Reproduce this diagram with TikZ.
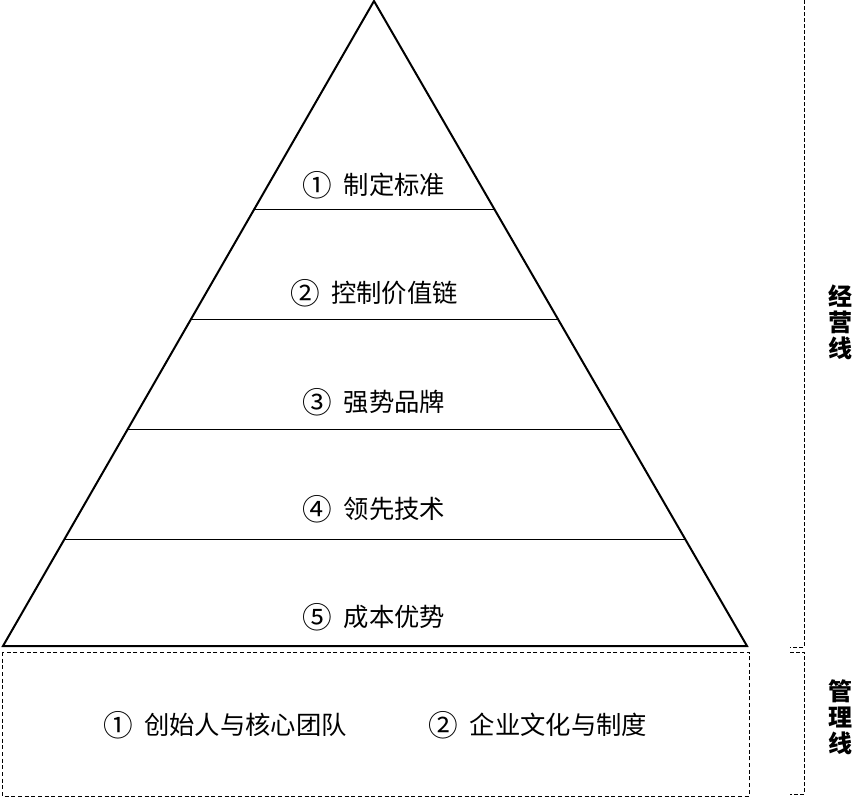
\documentclass[tikz,border=0pt]{standalone}
\usepackage{fontspec}
\newfontfamily\cjk{Noto Sans CJK SC}
\usepackage{tikz}

\newcommand\cnum[1]{\raisebox{-0.08em}{\scalebox{1.17}{#1}}\hspace{0.45em}}

\tikzset{
  band/.style={font=\cjk\fontsize{19}{21}\selectfont, inner sep=0pt},
  side/.style={font=\cjk\bfseries\fontsize{18}{19.5}\selectfont, align=center, inner sep=0pt},
  brace/.style={line width=0.75pt, dash pattern=on 3pt off 1.5pt},
}

\begin{document}
\begin{tikzpicture}[x=0.75pt, y=-0.75pt]
            \useasboundingbox (0,0) rectangle (854,797);
            %
            \coordinate (apex) at (374, 1);
            \coordinate (baseL) at (3, 646);
            \coordinate (baseR) at (747, 646);
            \draw[line width=1.5pt, line join=miter] (apex) -- (baseL) -- (baseR) -- cycle;
            %
            \draw[line width=0.75pt] (254.5, 209) -- (494.5, 209);
            \draw[line width=0.75pt] (191, 319) -- (558, 319);
            \draw[line width=0.75pt] (128, 429) -- (621.5, 429);
            \draw[line width=0.75pt] (65, 539) -- (685, 539);
            %
            \node[band] (std) at (374, 185) {\cnum{①}制定标准};
            \node[band] (chain) at (374, 293) {\cnum{②}控制价值链};
            \node[band] (brand) at (374, 402) {\cnum{③}强势品牌};
            \node[band] (tech) at (374, 509) {\cnum{④}领先技术};
            \node[band] (cost) at (374, 617) {\cnum{⑤}成本优势};
            %
            \draw[line width=0.75pt, dash pattern=on 3pt off 2pt] (2, 652) rectangle (749, 796);
            \node[band] (founder) at (225, 725) {\cnum{①}创始人与核心团队};
            \node[band] (culture) at (538, 725) {\cnum{②}企业文化与制度};
            %
            \draw[brace] (804, 0) -- (804, 647) -- (790, 647);
            \draw[brace] (790, 652) -- (804, 652) -- (804, 794) -- (790, 794);
            \node[side] (biz) at (840, 322) {经\\营\\线};
            \node[side] (mgmt) at (840, 717) {管\\理\\线};
        \end{tikzpicture}
\end{document}
